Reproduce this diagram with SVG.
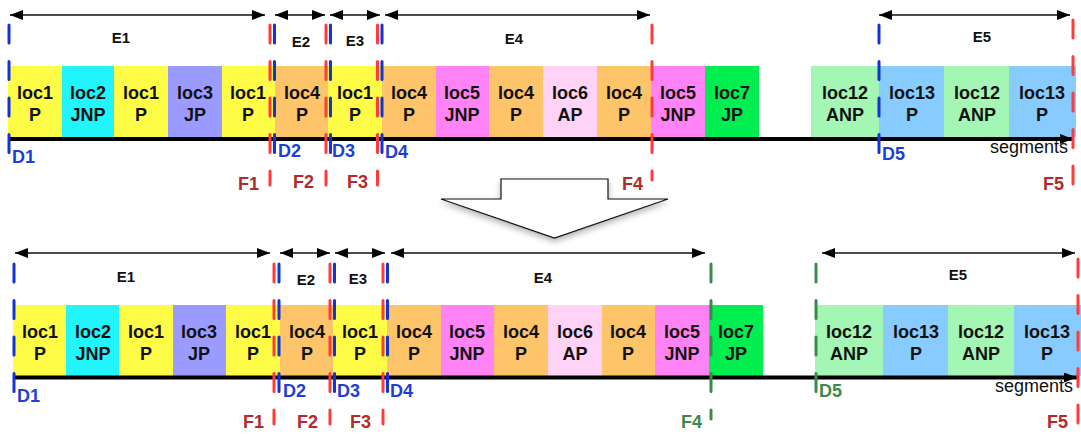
<svg xmlns="http://www.w3.org/2000/svg" width="1081" height="434" viewBox="0 0 1081 434">
<defs>
<style>
.bx{stroke:none}
.y{fill:#FFFC47}.c{fill:#22F4FC}.pu{fill:#9B9BFF}.o{fill:#FDC46A}.m{fill:#FF83F4}.pp{fill:#FFD3F6}.g{fill:#00EE50}.lg{fill:#A4F6B4}.lb{fill:#87CBFF}
.t{font-family:"Liberation Sans",Arial,sans-serif;font-weight:bold;font-size:18px;fill:#111;text-anchor:middle}
.e{font-family:"Liberation Sans",Arial,sans-serif;font-weight:bold;font-size:15px;fill:#111;text-anchor:middle}
.d{font-family:"Liberation Sans",Arial,sans-serif;font-weight:bold;font-size:18px;fill:#1E3FD6}
.f{font-family:"Liberation Sans",Arial,sans-serif;font-weight:bold;font-size:18px;fill:#B32A2A}
.fg{font-family:"Liberation Sans",Arial,sans-serif;font-weight:bold;font-size:18px;fill:#3A8A4C}
.s{font-family:"Liberation Sans",Arial,sans-serif;font-size:18px;fill:#111}
.ar{stroke:#111;stroke-width:1.5;fill:none;marker-start:url(#ah);marker-end:url(#ah)}
.ax{stroke:#000;stroke-width:4;fill:none;marker-end:url(#axh)}
.db{stroke:#1433D6;stroke-width:3;stroke-linecap:round;stroke-dasharray:18 18.5;fill:none}
.dr{stroke:#FF3B3B;stroke-width:3;stroke-linecap:round;stroke-dasharray:18 18.5;fill:none}
.dg{stroke:#3A8A4C;stroke-width:3;stroke-linecap:round;stroke-dasharray:18 18.5;fill:none}
</style>
<marker id="ah" markerUnits="userSpaceOnUse" markerWidth="14" markerHeight="11" refX="13" refY="5" orient="auto-start-reverse"><path d="M0,0 L13,5 L0,10 z" fill="#000"/></marker>
<marker id="axh" markerUnits="userSpaceOnUse" markerWidth="14" markerHeight="11" refX="13" refY="5" orient="auto"><path d="M0,0 L13,5 L0,10 z" fill="#000"/></marker>
<filter id="sh" x="-20%" y="-30%" width="140%" height="170%"><feDropShadow dx="0" dy="3" stdDeviation="3" flood-color="#000" flood-opacity="0.3"/></filter>
</defs>
<rect width="1081" height="434" fill="#fff"/>

<!-- TOP ROW -->
<g id="top-row">
<g id="t1"><rect class="y" x="8" y="66" width="54" height="71"/><text class="t" x="35" y="99">loc1</text><text class="t" x="35" y="121">P</text></g>
<g id="t2"><rect class="c" x="62" y="66" width="52" height="71"/><text class="t" x="88" y="99">loc2</text><text class="t" x="88" y="121">JNP</text></g>
<g id="t3"><rect class="y" x="114" y="66" width="54" height="71"/><text class="t" x="141" y="99">loc1</text><text class="t" x="141" y="121">P</text></g>
<g id="t4"><rect class="pu" x="168" y="66" width="54" height="71"/><text class="t" x="195" y="99">loc3</text><text class="t" x="195" y="121">JP</text></g>
<g id="t5"><rect class="y" x="222" y="66" width="53" height="71"/><text class="t" x="248" y="99">loc1</text><text class="t" x="248" y="121">P</text></g>
<g id="t6"><rect class="o" x="275" y="66" width="53" height="71"/><text class="t" x="302" y="99">loc4</text><text class="t" x="302" y="121">P</text></g>
<g id="t7"><rect class="y" x="328" y="66" width="54" height="71"/><text class="t" x="355" y="99">loc1</text><text class="t" x="355" y="121">P</text></g>
<g id="t8"><rect class="o" x="382" y="66" width="54" height="71"/><text class="t" x="409" y="99">loc4</text><text class="t" x="409" y="121">P</text></g>
<g id="t9"><rect class="m" x="436" y="66" width="53" height="71"/><text class="t" x="462" y="99">loc5</text><text class="t" x="462" y="121">JNP</text></g>
<g id="t10"><rect class="o" x="489" y="66" width="54" height="71"/><text class="t" x="516" y="99">loc4</text><text class="t" x="516" y="121">P</text></g>
<g id="t11"><rect class="pp" x="543" y="66" width="54" height="71"/><text class="t" x="570" y="99">loc6</text><text class="t" x="570" y="121">AP</text></g>
<g id="t12"><rect class="o" x="597" y="66" width="54" height="71"/><text class="t" x="624" y="99">loc4</text><text class="t" x="624" y="121">P</text></g>
<g id="t13"><rect class="m" x="651" y="66" width="54" height="71"/><text class="t" x="678" y="99">loc5</text><text class="t" x="678" y="121">JNP</text></g>
<g id="t14"><rect class="g" x="705" y="66" width="54" height="71"/><text class="t" x="732" y="99">loc7</text><text class="t" x="732" y="121">JP</text></g>
<g id="t15"><rect class="lg" x="811" y="66" width="68" height="71"/><text class="t" x="845" y="99">loc12</text><text class="t" x="845" y="121">ANP</text></g>
<g id="t16"><rect class="lb" x="879" y="66" width="65" height="71"/><text class="t" x="912" y="99">loc13</text><text class="t" x="912" y="121">P</text></g>
<g id="t17"><rect class="lg" x="944" y="66" width="65" height="71"/><text class="t" x="977" y="99">loc12</text><text class="t" x="977" y="121">ANP</text></g>
<g id="t18"><rect class="lb" x="1009" y="66" width="67" height="71"/><text class="t" x="1042" y="99">loc13</text><text class="t" x="1042" y="121">P</text></g>
</g>

<!-- BOTTOM ROW -->
<g id="bottom-row">
<g id="b1"><rect class="y" x="13" y="305" width="53" height="71"/><text class="t" x="40" y="338">loc1</text><text class="t" x="40" y="360">P</text></g>
<g id="b2"><rect class="c" x="66" y="305" width="53" height="71"/><text class="t" x="93" y="338">loc2</text><text class="t" x="93" y="360">JNP</text></g>
<g id="b3"><rect class="y" x="119" y="305" width="54" height="71"/><text class="t" x="146" y="338">loc1</text><text class="t" x="146" y="360">P</text></g>
<g id="b4"><rect class="pu" x="173" y="305" width="53" height="71"/><text class="t" x="199" y="338">loc3</text><text class="t" x="199" y="360">JP</text></g>
<g id="b5"><rect class="y" x="226" y="305" width="54" height="71"/><text class="t" x="253" y="338">loc1</text><text class="t" x="253" y="360">P</text></g>
<g id="b6"><rect class="o" x="280" y="305" width="53" height="71"/><text class="t" x="307" y="338">loc4</text><text class="t" x="307" y="360">P</text></g>
<g id="b7"><rect class="y" x="333" y="305" width="54" height="71"/><text class="t" x="360" y="338">loc1</text><text class="t" x="360" y="360">P</text></g>
<g id="b8"><rect class="o" x="387" y="305" width="54" height="71"/><text class="t" x="414" y="338">loc4</text><text class="t" x="414" y="360">P</text></g>
<g id="b9"><rect class="m" x="441" y="305" width="53" height="71"/><text class="t" x="467" y="338">loc5</text><text class="t" x="467" y="360">JNP</text></g>
<g id="b10"><rect class="o" x="494" y="305" width="54" height="71"/><text class="t" x="521" y="338">loc4</text><text class="t" x="521" y="360">P</text></g>
<g id="b11"><rect class="pp" x="548" y="305" width="54" height="71"/><text class="t" x="575" y="338">loc6</text><text class="t" x="575" y="360">AP</text></g>
<g id="b12"><rect class="o" x="602" y="305" width="53" height="71"/><text class="t" x="628" y="338">loc4</text><text class="t" x="628" y="360">P</text></g>
<g id="b13"><rect class="m" x="655" y="305" width="54" height="71"/><text class="t" x="682" y="338">loc5</text><text class="t" x="682" y="360">JNP</text></g>
<g id="b14"><rect class="g" x="709" y="305" width="54" height="71"/><text class="t" x="736" y="338">loc7</text><text class="t" x="736" y="360">JP</text></g>
<g id="b15"><rect class="lg" x="815" y="305" width="68" height="71"/><text class="t" x="849" y="338">loc12</text><text class="t" x="849" y="360">ANP</text></g>
<g id="b16"><rect class="lb" x="883" y="305" width="65" height="71"/><text class="t" x="916" y="338">loc13</text><text class="t" x="916" y="360">P</text></g>
<g id="b17"><rect class="lg" x="948" y="305" width="66" height="71"/><text class="t" x="981" y="338">loc12</text><text class="t" x="981" y="360">ANP</text></g>
<g id="b18"><rect class="lb" x="1014" y="305" width="67" height="71"/><text class="t" x="1047" y="338">loc13</text><text class="t" x="1047" y="360">P</text></g>
</g>

<!-- big transform arrow -->
<g id="transform-arrow">
<path d="M501,179 L608,179 L608,199 L668,199 L554.5,238 L441,199 L501,199 Z" fill="#fff" stroke="#111" stroke-width="1.2" filter="url(#sh)"/>
</g>

<g id="connectors">
<!-- axes -->
<line class="ax" x1="8" y1="139" x2="1073" y2="139"/>
<line class="ax" x1="13" y1="377.5" x2="1077" y2="377.5"/>
<!-- top E arrows -->
<line class="ar" x1="10" y1="15" x2="265" y2="15"/>
<line class="ar" x1="275" y1="15" x2="325" y2="15"/>
<line class="ar" x1="330" y1="15" x2="380" y2="15"/>
<line class="ar" x1="385" y1="15" x2="650" y2="15"/>
<line class="ar" x1="879" y1="15" x2="1070" y2="15"/>
<!-- bottom E arrows -->
<line class="ar" x1="15" y1="253" x2="270" y2="253"/>
<line class="ar" x1="280" y1="253" x2="330" y2="253"/>
<line class="ar" x1="335" y1="253" x2="385" y2="253"/>
<line class="ar" x1="391" y1="253" x2="705" y2="253"/>
<line class="ar" x1="822" y1="253" x2="1075" y2="253"/>
<!-- top dashed markers -->
<line class="db" x1="9" y1="25" x2="9" y2="153"/>
<line class="dr" x1="270" y1="25" x2="270" y2="185"/>
<line class="db" x1="274.5" y1="25" x2="274.5" y2="153"/>
<line class="dr" x1="326" y1="25" x2="326" y2="185"/>
<line class="db" x1="330.5" y1="25" x2="330.5" y2="153"/>
<line class="dr" x1="377.5" y1="25" x2="377.5" y2="185"/>
<line class="db" x1="382" y1="25" x2="382" y2="153"/>
<line class="dr" x1="652" y1="25" x2="652" y2="180"/>
<line class="db" x1="879" y1="25" x2="879" y2="153"/>
<line class="dr" x1="1073" y1="20" x2="1073" y2="185"/>
<!-- bottom dashed markers -->
<line class="db" x1="14" y1="264" x2="14" y2="392"/>
<line class="dr" x1="274" y1="264" x2="274" y2="424"/>
<line class="db" x1="279" y1="264" x2="279" y2="392"/>
<line class="dr" x1="330" y1="264" x2="330" y2="424"/>
<line class="db" x1="334.5" y1="264" x2="334.5" y2="392"/>
<line class="dr" x1="383" y1="264" x2="383" y2="424"/>
<line class="db" x1="387.5" y1="264" x2="387.5" y2="392"/>
<line class="dg" x1="711" y1="264" x2="711" y2="419"/>
<line class="dg" x1="816" y1="264" x2="816" y2="392"/>
<line class="dr" x1="1078" y1="259" x2="1078" y2="424"/>
</g>

<g id="labels">
<text class="e" x="121" y="43">E1</text>
<text class="e" x="301" y="47">E2</text>
<text class="e" x="355" y="46">E3</text>
<text class="e" x="514" y="44">E4</text>
<text class="e" x="982" y="42">E5</text>
<text class="e" x="126" y="282">E1</text>
<text class="e" x="306" y="285">E2</text>
<text class="e" x="358" y="284">E3</text>
<text class="e" x="543" y="283">E4</text>
<text class="e" x="958" y="280">E5</text>

<text class="d" x="12" y="163">D1</text>
<text class="d" x="278" y="157">D2</text>
<text class="d" x="332" y="157">D3</text>
<text class="d" x="385" y="158">D4</text>
<text class="d" x="882" y="160">D5</text>
<text class="d" x="17" y="402">D1</text>
<text class="d" x="283" y="397">D2</text>
<text class="d" x="337" y="397">D3</text>
<text class="d" x="390" y="397">D4</text>
<text class="fg" x="819" y="397">D5</text>

<text class="f" x="238" y="190">F1</text>
<text class="f" x="293" y="188">F2</text>
<text class="f" x="347" y="188">F3</text>
<text class="f" x="622" y="190">F4</text>
<text class="f" x="1043" y="190">F5</text>
<text class="f" x="243" y="428">F1</text>
<text class="f" x="297" y="428">F2</text>
<text class="f" x="350" y="428">F3</text>
<text class="fg" x="681" y="428">F4</text>
<text class="f" x="1047" y="428">F5</text>

<text class="s" x="990" y="153">segments</text>
<text class="s" x="995" y="392">segments</text>
</g>
</svg>
